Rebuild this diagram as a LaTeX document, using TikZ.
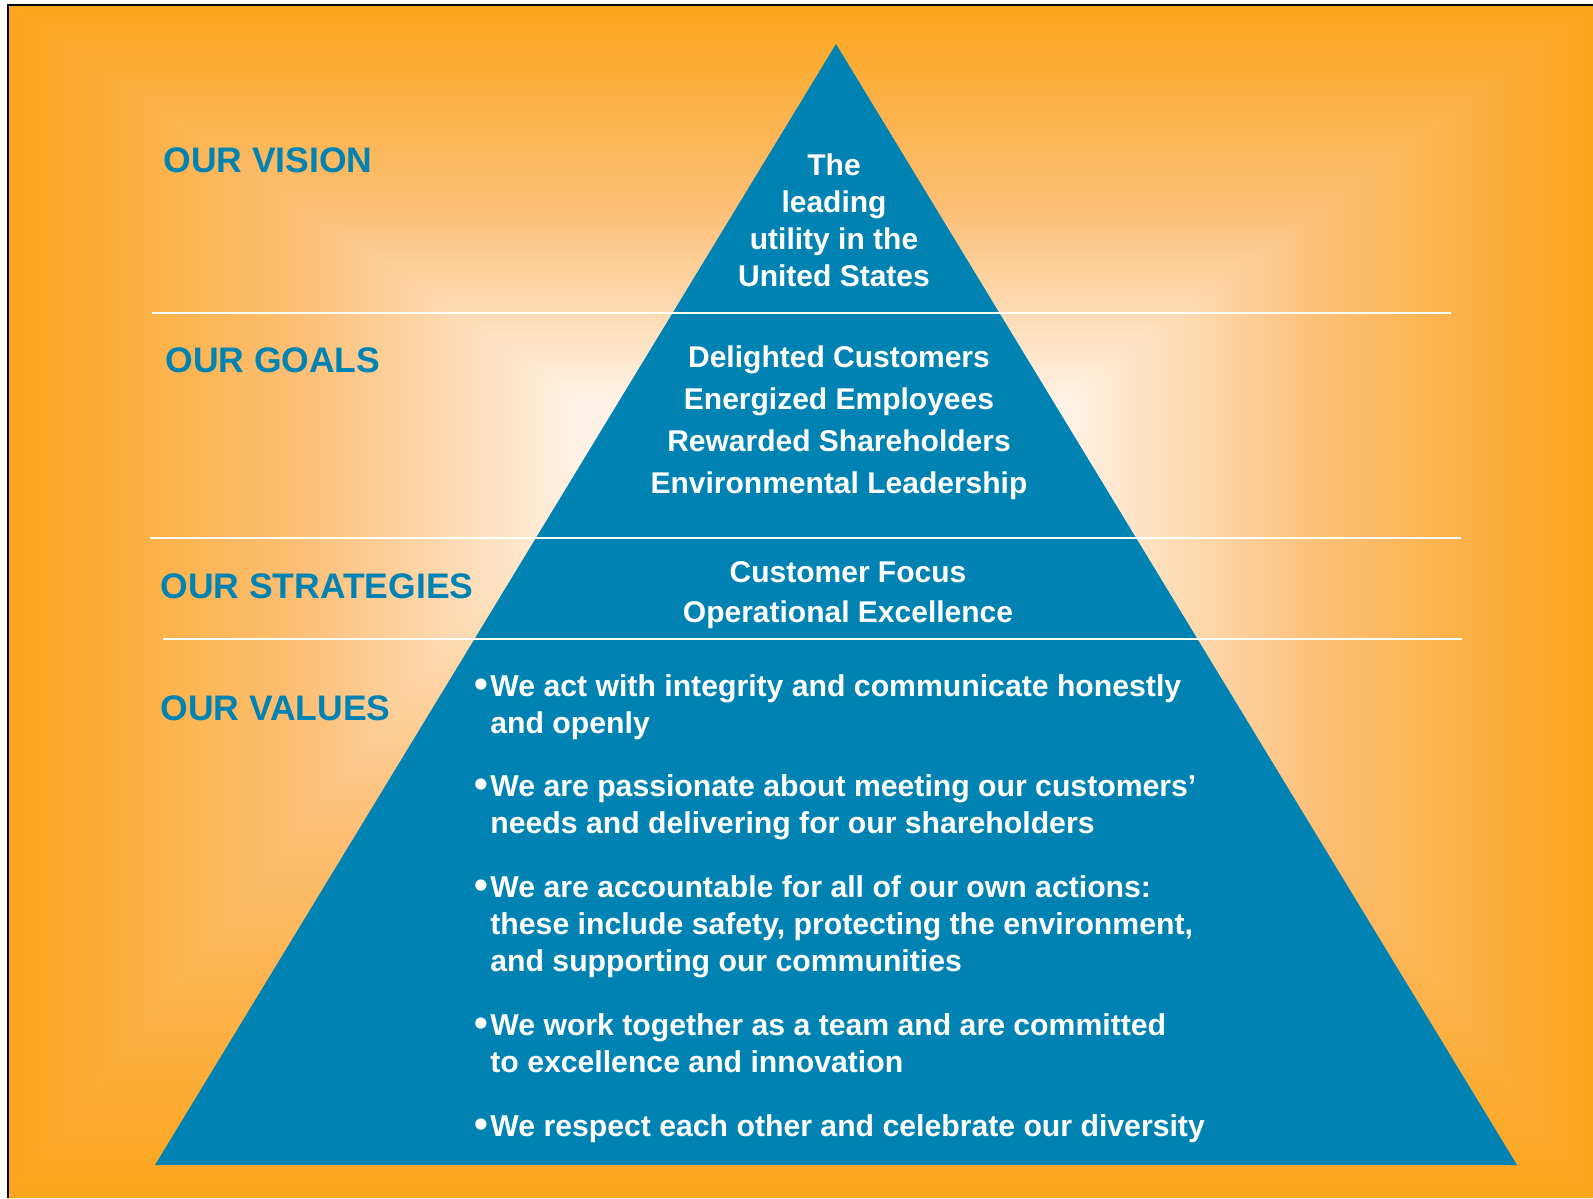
\documentclass[tikz,border=0pt]{standalone}
\usepackage{graphicx}
\usepackage{fontspec}
\setmainfont{Liberation Sans}

\definecolor{bgorange}{RGB}{251,165,27}
\definecolor{bgmid}{RGB}{252,190,115}
\definecolor{bglight}{RGB}{254,242,230}
\definecolor{pyrblue}{RGB}{0,131,178}

% background gradients (edge -> centre)
\pgfdeclarehorizontalshading{bgleft}{100bp}{color(0bp)=(bgorange); color(25bp)=(bgorange); color(50bp)=(bgmid); color(75bp)=(bglight); color(100bp)=(bglight)}
\pgfdeclarehorizontalshading{bgright}{100bp}{color(0bp)=(bglight); color(25bp)=(bglight); color(50bp)=(bgmid); color(75bp)=(bgorange); color(100bp)=(bgorange)}
\pgfdeclareverticalshading{bgtop}{100bp}{color(0bp)=(bglight); color(25bp)=(bglight); color(50bp)=(bgmid); color(75bp)=(bgorange); color(100bp)=(bgorange)}
\pgfdeclareverticalshading{bgbottom}{100bp}{color(0bp)=(bgorange); color(25bp)=(bgorange); color(50bp)=(bgmid); color(75bp)=(bglight); color(100bp)=(bglight)}

\tikzset{
  heading/.style={anchor=base west, inner sep=0pt, text=pyrblue,
    font=\bfseries\fontsize{17.75}{21}\selectfont},
  pyrtext/.style={anchor=base, inner sep=0pt, text=white, align=center},
  valtext/.style={anchor=base west, inner sep=0pt, text=white, align=left,
    font=\bfseries\fontsize{15.1}{18.5}\selectfont},
  sepline/.style={white, line width=1pt}
}
\newcommand{\valbullet}{\makebox[8pt][l]{\raisebox{-0.6pt}{\scalebox{1.3}{\textbullet}}}}
\newcommand{\valindent}{\hspace*{8pt}}

\begin{document}
\begin{tikzpicture}[x=0.5pt, y=-0.5pt]
    \useasboundingbox (0,0) rectangle (1593,1198);
    \fill[white] (0,0) rectangle (1593,1198);

    % Background
    \fill[bgmid] (8,5) rectangle (1593,1198);
    \shade[shading=bgleft] (8,5) -- (580,400) -- (580,470) -- (8,1198) -- cycle;
    \shade[shading=bgright] (1065,400) -- (1593,5) -- (1593,1198) -- (1065,470) -- cycle;
    \shade[shading=bgtop] (8,5) -- (1593,5) -- (1065,400) -- (580,400) -- cycle;
    \shade[shading=bgbottom] (580,470) -- (1065,470) -- (1593,1198) -- (8,1198) -- cycle;
    \fill[bglight] (580,400) rectangle (1065,470);
    \draw[black, line width=1pt] (8,1198) -- (8,5) -- (1593,5);

    % Pyramid
    \coordinate (apex) at (836,44);
    \coordinate (baseL) at (155,1165);
    \coordinate (baseR) at (1517,1165);
    \fill[pyrblue] (apex) -- (baseR) -- (baseL) -- cycle;

    % Separators
    \draw[sepline] (152,313) -- (1451,313);
    \draw[sepline] (150,538) -- (1461,538);
    \draw[sepline] (163,639) -- (1462,639);

    % Headings
    \node[heading] (vision) at (163,173) {OUR VISION};
    \node[heading] (goals) at (165,372) {OUR GOALS};
    \node[heading] (strategies) at (160,598) {OUR STRATEGIES};
    \node[heading] (values) at (160,720) {OUR VALUES};

    % Pyramid texts (placed by their last line)
    \node[pyrtext, font=\bfseries\fontsize{15}{18.5}\selectfont] (visiontxt) at (834,286)
      {The\\leading\\utility in the\\United States};
    \node[pyrtext, font=\bfseries\fontsize{15}{21}\selectfont] (goalstxt) at (839,493)
      {Delighted Customers\\Energized Employees\\Rewarded Shareholders\\Environmental Leadership};
    \node[pyrtext, font=\bfseries\fontsize{15}{20}\selectfont] (strattxt) at (848,622)
      {Customer Focus\\Operational Excellence};

    % Values
    \node[valtext] (val1) at (474,733)
      {\valbullet We act with integrity and communicate honestly\\\valindent and openly};
    \node[valtext] (val2) at (474,833)
      {\valbullet We are passionate about meeting our customers’\\\valindent needs and delivering for our shareholders};
    \node[valtext] (val3) at (474,971)
      {\valbullet We are accountable for all of our own actions:\\\valindent these include safety, protecting the environment,\\\valindent and supporting our communities};
    \node[valtext] (val4) at (474,1072)
      {\valbullet We work together as a team and are committed\\\valindent to excellence and innovation};
    \node[valtext] (val5) at (474,1136)
      {\valbullet We respect each other and celebrate our diversity};
\end{tikzpicture}
\end{document}
